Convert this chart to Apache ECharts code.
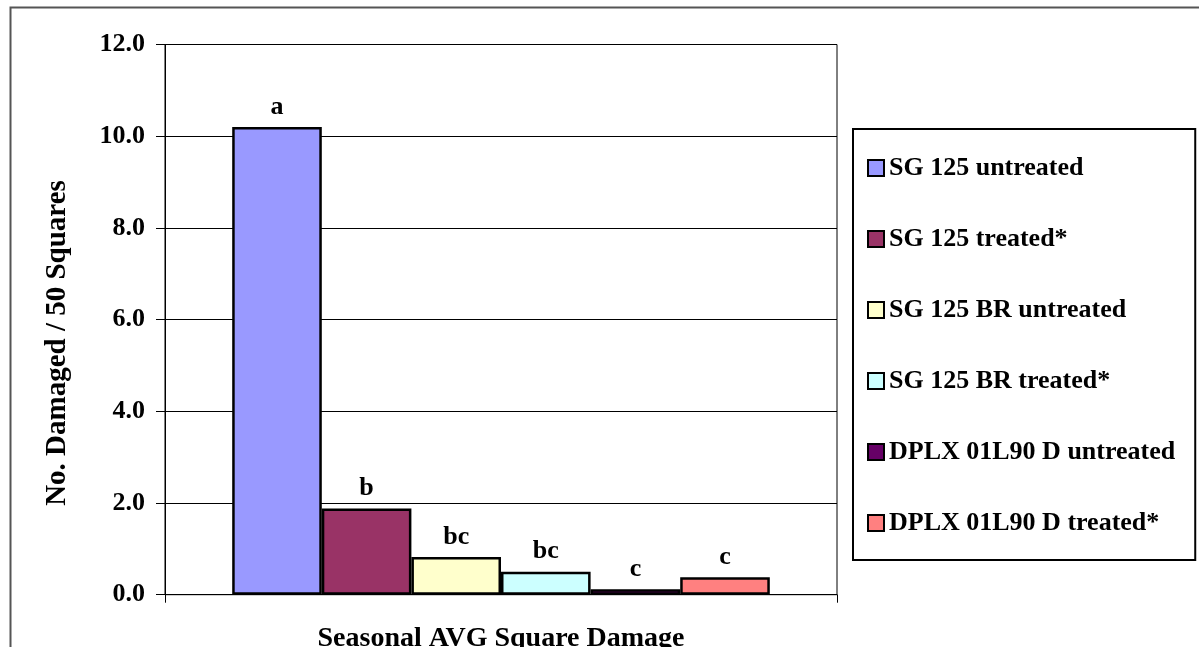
<!DOCTYPE html>
<html>
<head>
<meta charset="utf-8">
<script src="https://cdn.jsdelivr.net/npm/echarts@6/dist/echarts.min.js"></script>
<style>
  html, body { margin: 0; padding: 0; background: #fff; }
  #chart { width: 1199px; height: 647px; }
</style>
</head>
<body>
<div id="chart"></div>
<script>
var category = ['Seasonal AVG Square Damage'];
var seriesNames = ['SG 125 untreated', 'SG 125 treated*', 'SG 125 BR untreated',
  'SG 125 BR treated*', 'DPLX 01L90 D untreated', 'DPLX 01L90 D treated*'];
var seriesValues = [10.2, 1.88, 0.82, 0.50, 0.12, 0.38];
var letters = ['a', 'b', 'bc', 'bc', 'c', 'c'];
var colors = ['#9999FF', '#993366', '#FFFFCC', '#CCFFFF', '#660066', '#FF8080'];

var font = "'Liberation Serif', 'Times New Roman', serif";
var chart = echarts.init(document.getElementById('chart'));

var series = [];
for (var i = 0; i < seriesNames.length; i++) {
  series.push({
    name: seriesNames[i],
    type: 'bar',
    barGap: 0,
    barCategoryGap: '20%',
    data: [seriesValues[i]],
    itemStyle: { color: colors[i], borderColor: '#000', borderWidth: 2.5 },
    label: {
      show: true,
      position: 'top',
      distance: 7,
      formatter: (function (t) { return function () { return t; }; })(letters[i]),
      color: '#000',
      fontFamily: font,
      fontWeight: 'bold',
      fontSize: 26
    },
    animation: false
  });
}

var option = {
  backgroundColor: '#ffffff',
  animation: false,
  grid: {
    left: 165, right: 362, top: 44.5, bottom: 52.3,
    outerBoundsMode: 'none',
    containLabel: false,
    show: true, borderColor: '#000', borderWidth: 1
  },
  legend: {
    orient: 'vertical',
    left: 853,
    top: 129,
    padding: [26, 20, 24, 14],
    itemGap: 45,
    itemWidth: 16,
    itemHeight: 16,
    icon: 'rect',
    borderColor: '#000',
    borderWidth: 2,
    selectedMode: false,
    textStyle: { color: '#000', fontFamily: font, fontWeight: 'bold', fontSize: 26 },
    data: seriesNames
  },
  xAxis: {
    type: 'category',
    data: category,
    axisLine: { lineStyle: { color: '#000', width: 1 } },
    axisTick: { show: true, length: 8, lineStyle: { color: '#000' } },
    axisLabel: { margin: 30, color: '#000', fontFamily: font, fontWeight: 'bold', fontSize: 28 }
  },
  yAxis: {
    type: 'value',
    min: 0, max: 12, interval: 2,
    axisLine: { show: true, lineStyle: { color: '#000', width: 1 } },
    axisTick: { show: true, length: 9, lineStyle: { color: '#000' } },
    axisLabel: {
      margin: 20, color: '#000', fontFamily: font, fontWeight: 'bold', fontSize: 26,
      formatter: function (v) { return v.toFixed(1); }
    },
    splitLine: { lineStyle: { color: '#000', width: 1 } }
  },
  graphic: [
    {
      type: 'rect', left: 8, top: 5, silent: true,
      shape: { width: 1300, height: 700 },
      style: { fill: 'none', stroke: '#555', lineWidth: 2 }
    },
    {
      type: 'text', x: 58, y: 343, rotation: Math.PI / 2, silent: true,
      style: {
        text: 'No. Damaged / 50 Squares', fill: '#000', font: 'bold 29px ' + font,
        textAlign: 'center', textVerticalAlign: 'middle'
      }
    }
  ],
  series: series
};

chart.setOption(option);
</script>
</body>
</html>
